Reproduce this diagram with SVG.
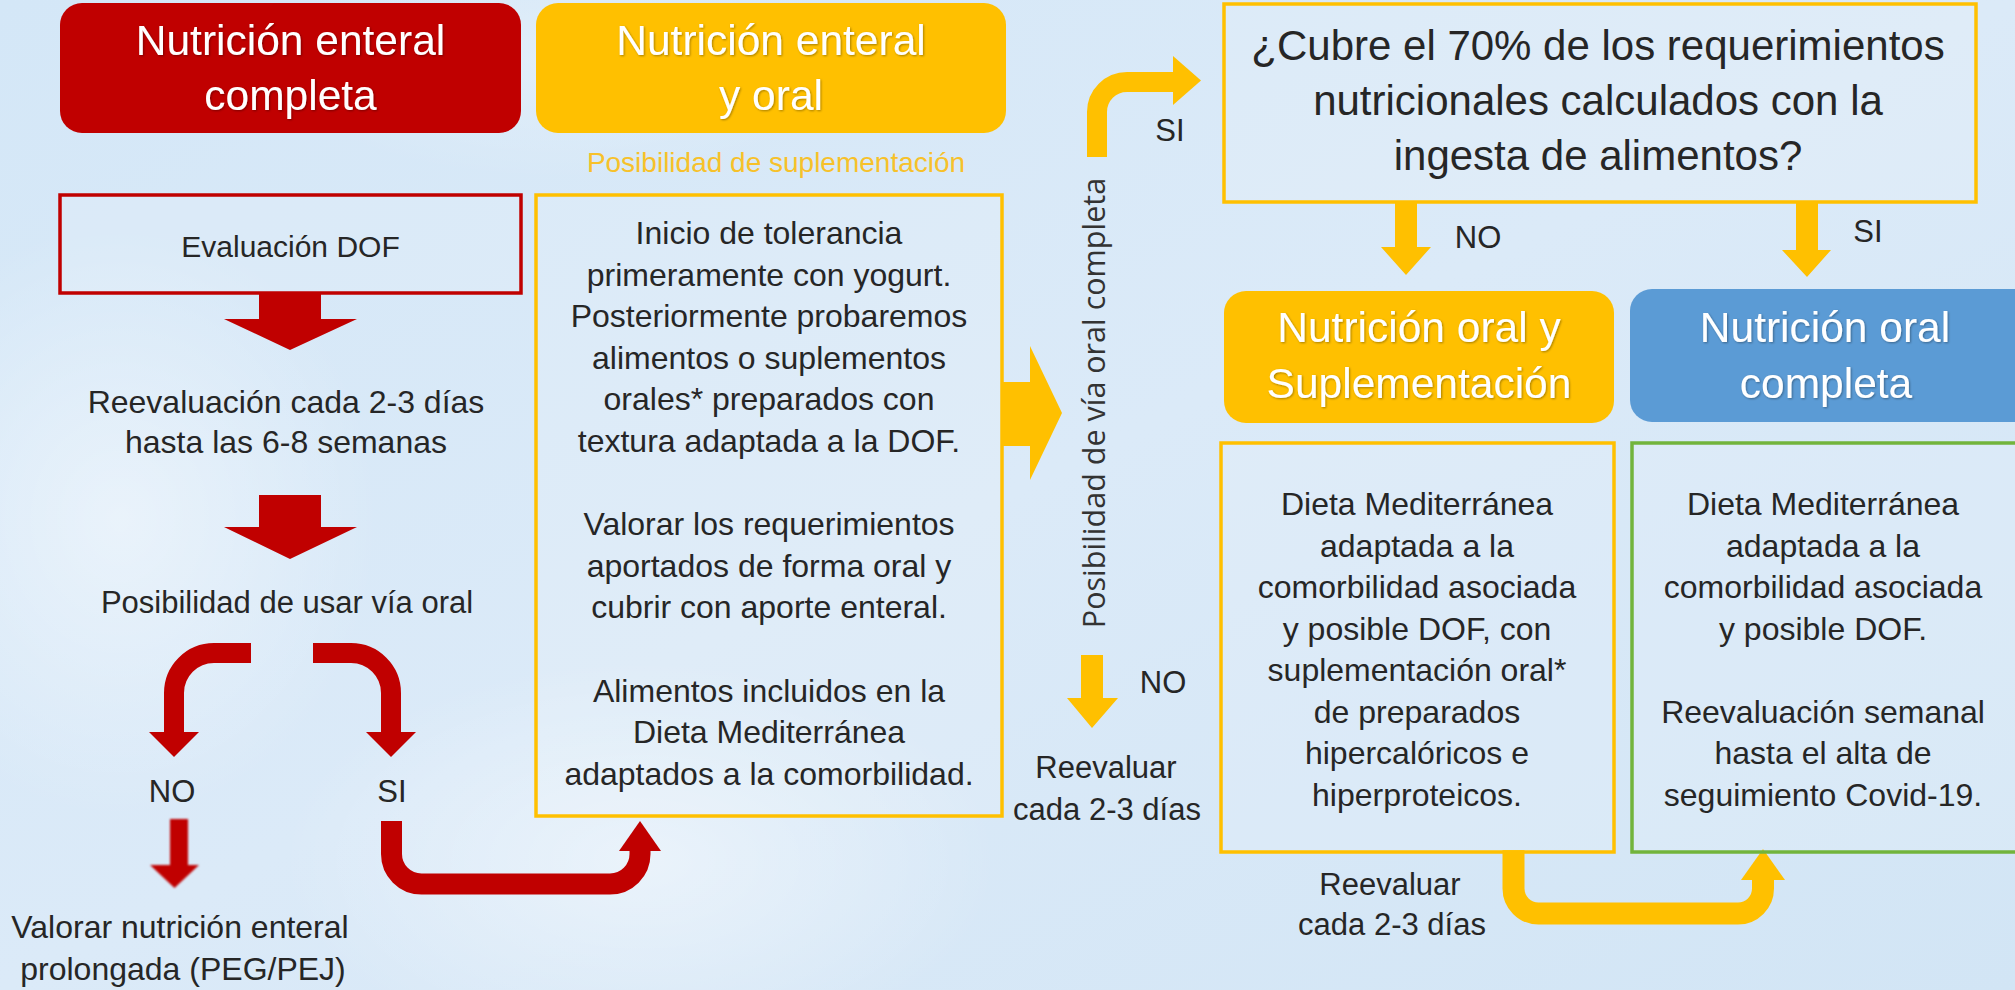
<svg xmlns="http://www.w3.org/2000/svg" width="2015" height="990" viewBox="0 0 2015 990">
<defs>
<linearGradient id="bg" x1="0" y1="0" x2="1" y2="1">
<stop offset="0" stop-color="#d4e7f7"/>
<stop offset="0.5" stop-color="#dbeaf8"/>
<stop offset="1" stop-color="#d2e5f5"/>
</linearGradient>
<radialGradient id="glow1" cx="0.5" cy="0.5" r="0.5">
<stop offset="0" stop-color="#ffffff" stop-opacity="0.45"/>
<stop offset="1" stop-color="#ffffff" stop-opacity="0"/>
</radialGradient>
<filter id="soft" x="-20%" y="-20%" width="140%" height="140%">
<feGaussianBlur stdDeviation="1.2"/>
</filter>
<filter id="tshadow" x="-5%" y="-20%" width="110%" height="140%">
<feDropShadow dx="1" dy="1" stdDeviation="1" flood-color="#000" flood-opacity="0.35"/>
</filter>
<style>
.hdr{font-family:"Liberation Sans",Arial,sans-serif;font-size:42.5px;fill:#ffffff;text-anchor:middle;}
.txt{font-family:"Liberation Sans",Arial,sans-serif;font-size:32px;fill:#262626;text-anchor:middle;}
.q{font-family:"Liberation Sans",Arial,sans-serif;font-size:42px;fill:#262626;text-anchor:middle;}
.vert{font-family:"Open Sans","DejaVu Sans",sans-serif;font-size:30.5px;fill:#333333;text-anchor:middle;}
.sup{font-family:"Liberation Sans",Arial,sans-serif;font-size:28px;fill:#f7c12a;text-anchor:middle;}
.boxR{fill:#ffffff;fill-opacity:0.12;stroke:#c00000;stroke-width:3.5;}
.boxY{fill:#ffffff;fill-opacity:0.12;stroke:#ffc000;stroke-width:3.5;}
.boxG{fill:#ffffff;fill-opacity:0.12;stroke:#72b43c;stroke-width:3.5;}
.red{fill:#c00000;}
.ylw{fill:#ffc000;}
.blue{fill:#5b9bd5;}
.redLine{fill:none;stroke:#c00000;stroke-width:20;}
.ylwLine{fill:none;stroke:#ffc000;stroke-width:21;}
</style>
</defs>

<g id="background">
<rect x="0" y="0" width="2015" height="990" fill="url(#bg)"/>
<ellipse cx="120" cy="520" rx="260" ry="300" fill="url(#glow1)"/>
<ellipse cx="640" cy="860" rx="360" ry="200" fill="url(#glow1)"/>
<ellipse cx="560" cy="60" rx="300" ry="120" fill="url(#glow1)" opacity="0.6"/>
</g>

<g id="connectors">
<path class="red" d="M259,293 H321 V319 H357 L290,350 L224,319 H259 Z"/>
<path class="red" d="M259,495 H321 V527 H357 L290,559 L224,527 H259 Z"/>
<path class="redLine" d="M251,653 H214 A40,40 0 0 0 174,693 V733"/>
<path class="red" d="M149,732 L199,732 L174,757 Z"/>
<path class="redLine" d="M313,653 H351 A40,40 0 0 1 391,693 V733"/>
<path class="red" d="M366,732 L416,732 L391,757 Z"/>
<path class="red" filter="url(#soft)" d="M170,819 H188 V865 H199 L174.5,888 L150,865 H170 Z"/>
<path class="redLine" style="stroke-width:21" d="M391.5,821 V854 A30,30 0 0 0 421.5,884 H610 A30,30 0 0 0 640,854 V849"/>
<path class="red" d="M619,851 L661,851 L640,821 Z"/>
<path class="ylw" d="M1002,382 H1030 V346 L1062,413 L1030,480 V446 H1002 Z"/>
<path class="ylwLine" style="stroke-width:20" d="M1097,157 V112 A30,30 0 0 1 1127,82 H1174"/>
<path class="ylw" d="M1173,56 L1201,80.5 L1173,105 Z"/>
<path class="ylw" d="M1081,655 H1103 V698 H1118 L1092,728 L1067,698 H1081 Z"/>
<path class="ylw" d="M1395,201 H1417 V247 H1431 L1406,275 L1381,247 H1395 Z"/>
<path class="ylw" d="M1796,203 H1818 V250 H1831 L1807,277 L1782,250 H1796 Z"/>
<path class="ylwLine" style="stroke-width:22" d="M1513.5,850 V888.5 A25,25 0 0 0 1538.5,913.5 H1738 A25,25 0 0 0 1763,888.5 V879"/>
<path class="ylw" d="M1741,880 L1785,880 L1763,849 Z"/>
</g>

<g id="node-enteral-completa">
<rect class="red" x="60" y="3" width="461" height="130" rx="22"/>
<text class="hdr" filter="url(#tshadow)" x="290.5" y="55">Nutrición enteral</text>
<text class="hdr" filter="url(#tshadow)" x="290.5" y="110">completa</text>
</g>

<g id="node-enteral-oral">
<rect class="ylw" x="536" y="3" width="470" height="130" rx="22"/>
<text class="hdr" filter="url(#tshadow)" x="771" y="55">Nutrición enteral</text>
<text class="hdr" filter="url(#tshadow)" x="771" y="110">y oral</text>
</g>

<g id="label-suplementacion">
<text class="sup" x="776" y="172">Posibilidad de suplementación</text>
</g>

<g id="node-evaluacion">
<rect class="boxR" x="60" y="195" width="461" height="98"/>
<text class="txt" x="290.5" y="257" style="font-size:30px">Evaluación DOF</text>
</g>

<g id="node-reevaluacion">
<text class="txt" x="286" y="413">Reevaluación cada 2-3 días</text>
<text class="txt" x="286" y="453">hasta las 6-8 semanas</text>
</g>

<g id="node-posibilidad-oral">
<text class="txt" x="287" y="613" style="font-size:31px">Posibilidad de usar vía oral</text>
</g>

<g id="label-no-left">
<text class="txt" x="172" y="802" style="font-size:31px">NO</text>
</g>
<g id="label-si-left">
<text class="txt" x="392" y="802" style="font-size:31px">SI</text>
</g>

<g id="node-prolongada">
<text class="txt" x="180" y="938">Valorar nutrición enteral</text>
<text class="txt" x="183" y="980">prolongada (PEG/PEJ)</text>
</g>

<g id="node-tolerancia">
<rect class="boxY" x="536" y="195" width="466" height="621"/>
<text class="txt" x="769" y="244">Inicio de tolerancia</text>
<text class="txt" x="769" y="285.6">primeramente con yogurt.</text>
<text class="txt" x="769" y="327.2">Posteriormente probaremos</text>
<text class="txt" x="769" y="368.8">alimentos o suplementos</text>
<text class="txt" x="769" y="410.4">orales* preparados con</text>
<text class="txt" x="769" y="452">textura adaptada a la DOF.</text>
<text class="txt" x="769" y="535.2">Valorar los requerimientos</text>
<text class="txt" x="769" y="576.8">aportados de forma oral y</text>
<text class="txt" x="769" y="618.4">cubrir con aporte enteral.</text>
<text class="txt" x="769" y="701.6">Alimentos incluidos en la</text>
<text class="txt" x="769" y="743.2">Dieta Mediterránea</text>
<text class="txt" x="769" y="784.8">adaptados a la comorbilidad.</text>
</g>

<g id="label-via-oral-completa">
<text class="vert" transform="translate(1105,403) rotate(-90)">Posibilidad de vía oral completa</text>
</g>

<g id="label-si-top">
<text class="txt" x="1170" y="141" style="font-size:31px">SI</text>
</g>
<g id="label-no-mid">
<text class="txt" x="1163" y="693" style="font-size:31px">NO</text>
</g>
<g id="node-reevaluar-mid">
<text class="txt" x="1106" y="778" style="font-size:31px">Reevaluar</text>
<text class="txt" x="1107" y="820" style="font-size:31px">cada 2-3 días</text>
</g>

<g id="node-pregunta">
<rect class="boxY" x="1224" y="4" width="752" height="198"/>
<text class="q" x="1598" y="60">¿Cubre el 70% de los requerimientos</text>
<text class="q" x="1598" y="115">nutricionales calculados con la</text>
<text class="q" x="1598" y="170">ingesta de alimentos?</text>
</g>

<g id="label-no-q">
<text class="txt" x="1478" y="248" style="font-size:31px">NO</text>
</g>
<g id="label-si-q">
<text class="txt" x="1868" y="242" style="font-size:31px">SI</text>
</g>

<g id="node-oral-suplementacion">
<rect class="ylw" x="1224" y="291" width="390" height="132" rx="22"/>
<text class="hdr" filter="url(#tshadow)" x="1419" y="342">Nutrición oral y</text>
<text class="hdr" filter="url(#tshadow)" x="1419" y="398">Suplementación</text>
</g>

<g id="node-oral-completa">
<rect class="blue" x="1630" y="289" width="420" height="133" rx="22"/>
<text class="hdr" filter="url(#tshadow)" x="1825" y="342">Nutrición oral</text>
<text class="hdr" filter="url(#tshadow)" x="1826" y="398">completa</text>
</g>

<g id="node-dieta-suplementada">
<rect class="boxY" x="1221" y="443" width="393" height="409"/>
<text class="txt" x="1417" y="515">Dieta Mediterránea</text>
<text class="txt" x="1417" y="556.5">adaptada a la</text>
<text class="txt" x="1417" y="598">comorbilidad asociada</text>
<text class="txt" x="1417" y="639.5">y posible DOF, con</text>
<text class="txt" x="1417" y="681">suplementación oral*</text>
<text class="txt" x="1417" y="722.5">de preparados</text>
<text class="txt" x="1417" y="764">hipercalóricos e</text>
<text class="txt" x="1417" y="805.5">hiperproteicos.</text>
</g>

<g id="node-dieta-completa">
<rect class="boxG" x="1632" y="443" width="420" height="409"/>
<text class="txt" x="1823" y="515">Dieta Mediterránea</text>
<text class="txt" x="1823" y="556.5">adaptada a la</text>
<text class="txt" x="1823" y="598">comorbilidad asociada</text>
<text class="txt" x="1823" y="639.5">y posible DOF.</text>
<text class="txt" x="1823" y="722.5">Reevaluación semanal</text>
<text class="txt" x="1823" y="764">hasta el alta de</text>
<text class="txt" x="1823" y="805.5">seguimiento Covid-19.</text>
</g>

<g id="node-reevaluar-bottom">
<text class="txt" x="1390" y="895" style="font-size:31px">Reevaluar</text>
<text class="txt" x="1392" y="935" style="font-size:31px">cada 2-3 días</text>
</g>
</svg>
